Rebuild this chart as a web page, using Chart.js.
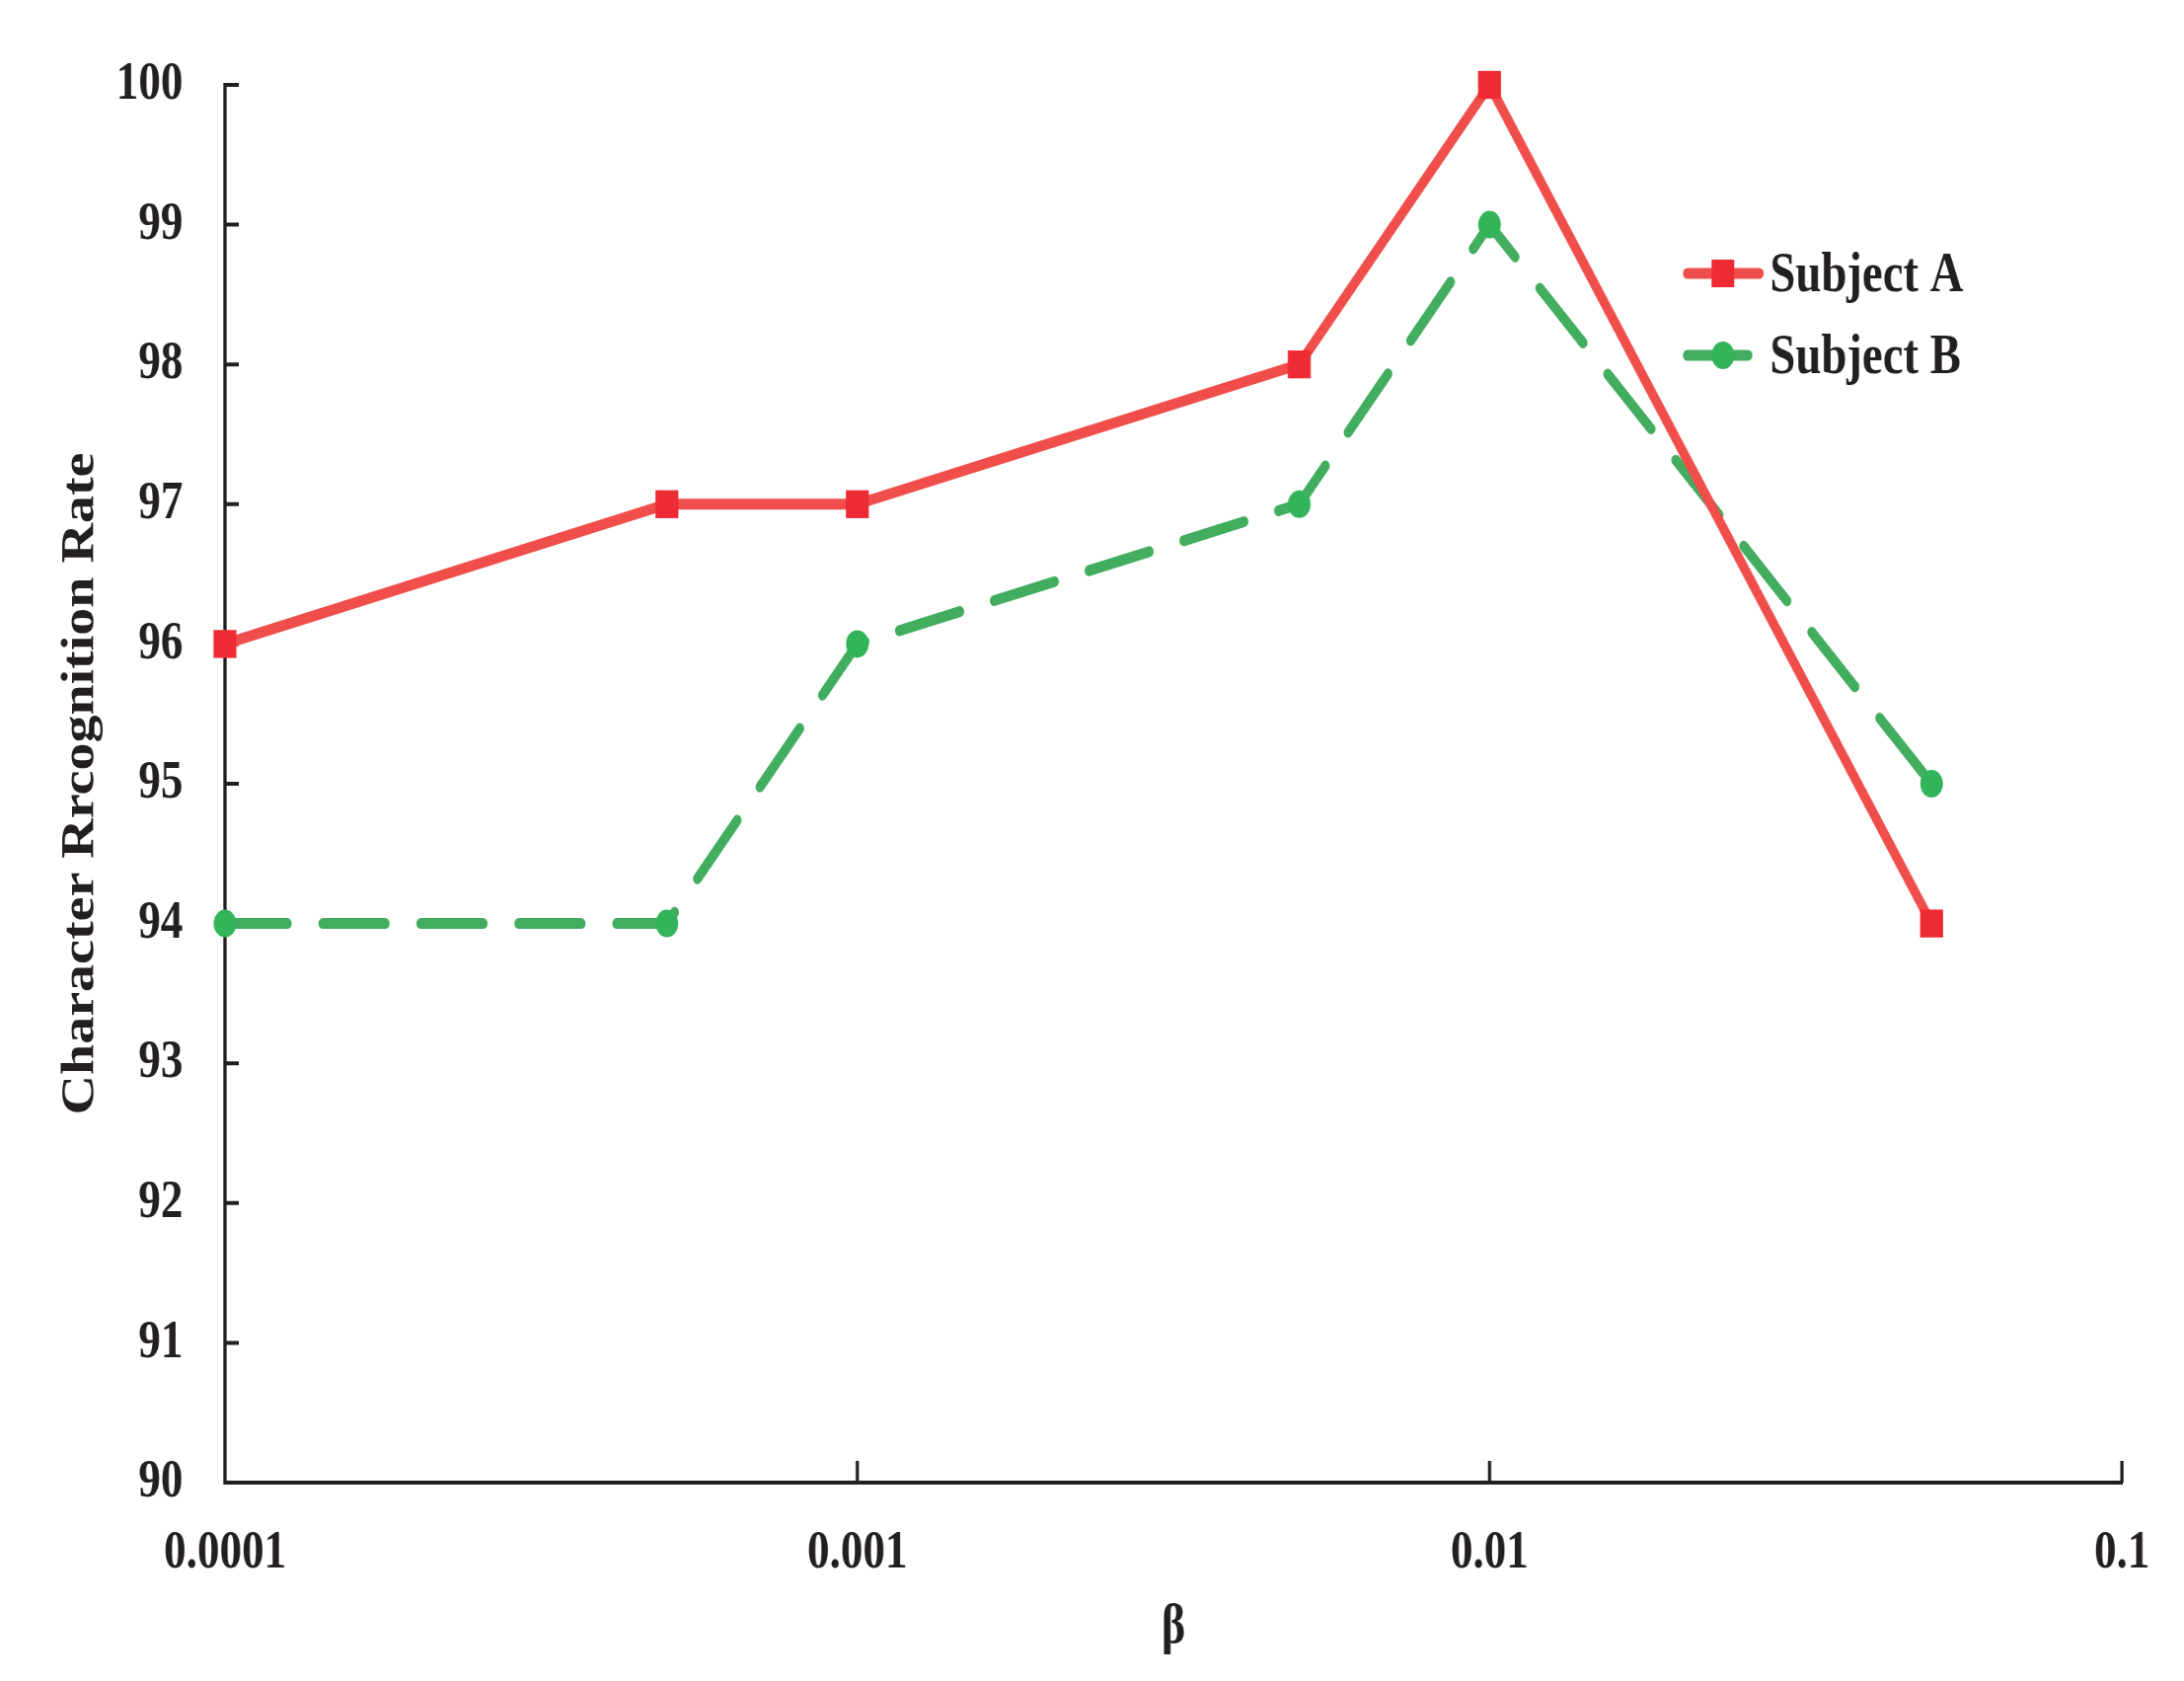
<!DOCTYPE html>
<html>
<head>
<meta charset="utf-8">
<script src="https://cdn.jsdelivr.net/npm/chart.js@4/dist/chart.umd.min.js"></script>
<style>
  html, body { margin: 0; padding: 0; background: #fff; overflow: hidden; }
  #wrap { width: 2213px; height: 1703px; overflow: hidden; }
  /* the original figure is squeezed horizontally */
  #chart { transform: scaleX(0.82); transform-origin: 0 0; }
</style>
</head>
<body>
<div id="wrap"><canvas id="chart"></canvas></div>
<script>
// ── Data ───────────────────────────────────────────────────────────────
const BETA      = [0.0001, 0.0005, 0.001, 0.005, 0.01, 0.05];
const SUBJECT_A = [96, 97, 97, 98, 100, 94];
const SUBJECT_B = [94, 94, 96, 97, 99, 95];
const X_TICKS   = [0.0001, 0.001, 0.01, 0.1];
const LABELS    = ['Subject A', 'Subject B'];

// ── Canvas ─────────────────────────────────────────────────────────────
const SX   = 0.82;
const W    = Math.round(2213 / SX);
const H    = 1703;
const INK  = '#231f20';
const FONT = 'Liberation Serif';

const canvas = document.getElementById('chart');
canvas.width  = W;
canvas.height = H;

const RED_LINE   = '#f04e4b';
const RED_MARK   = '#ee2a32';
const GREEN_LINE = '#42ad5e';
const GREEN_MARK = '#32b45a';

// ── Plugins ────────────────────────────────────────────────────────────
// tick marks point into the plot area
const innerTicks = {
  id: 'innerTicks',
  beforeDatasetsDraw(chart) {
    const { ctx, scales: { x, y }, chartArea: a } = chart;
    ctx.save();
    ctx.strokeStyle = INK;
    ctx.lineWidth = 4;
    ctx.beginPath();
    y.ticks.forEach((t, i) => {
      const py = y.getPixelForTick(i);
      ctx.moveTo(a.left, py);
      ctx.lineTo(a.left + 17, py);
    });
    x.ticks.forEach((t, i) => {
      const px = x.getPixelForTick(i);
      ctx.moveTo(px, a.bottom);
      ctx.lineTo(px, a.bottom - 22);
    });
    ctx.stroke();
    ctx.restore();
  }
};

// legend drawn inside the plot, top right
const legendBox = {
  id: 'legendBox',
  afterDraw(chart) {
    const { ctx } = chart;
    const rows = [
      { y: 277, x2: 2174, line: RED_LINE,   mark: RED_MARK,   style: 'rect' },
      { y: 360, x2: 2160, line: GREEN_LINE, mark: GREEN_MARK, style: 'circle' }
    ];
    ctx.save();
    rows.forEach((r, i) => {
      ctx.strokeStyle = r.line;
      ctx.lineWidth = 11;
      ctx.lineCap = 'round';
      ctx.beginPath();
      ctx.moveTo(2085, r.y);
      ctx.lineTo(r.x2, r.y);
      ctx.stroke();
      ctx.fillStyle = r.mark;
      if (r.style === 'rect') {
        ctx.fillRect(2129 - 14, r.y - 14, 28, 28);
      } else {
        ctx.beginPath();
        ctx.arc(2129, r.y, 14, 0, Math.PI * 2);
        ctx.fill();
      }
      ctx.fillStyle = INK;
      ctx.font = `bold 57px "${FONT}"`;
      ctx.textBaseline = 'alphabetic';
      ctx.fillText(LABELS[i], 2187, r.y + 18);
    });
    ctx.restore();
  }
};

// ── Chart ──────────────────────────────────────────────────────────────
const toPoints = (ys) => BETA.map((b, i) => ({ x: b, y: ys[i] }));

new Chart(canvas.getContext('2d'), {
  type: 'line',
  data: {
    datasets: [
      {
        label: LABELS[0],
        data: toPoints(SUBJECT_A),
        borderColor: RED_LINE,
        borderWidth: 11,
        borderJoinStyle: 'round',
        pointStyle: 'rect',
        pointRadius: 20,
        pointHoverRadius: 20,
        pointBackgroundColor: RED_MARK,
        pointBorderWidth: 0,
        clip: false
      },
      {
        label: LABELS[1],
        data: toPoints(SUBJECT_B),
        borderColor: GREEN_LINE,
        borderWidth: 11,
        borderDash: [77, 44],
        borderCapStyle: 'round',
        borderJoinStyle: 'round',
        pointStyle: 'circle',
        pointRadius: 14,
        pointHoverRadius: 14,
        pointBackgroundColor: GREEN_MARK,
        pointBorderWidth: 0,
        clip: false
      }
    ]
  },
  options: {
    responsive: false,
    animation: false,
    events: [],
    layout: { padding: { left: 0, top: 86, right: W - 2622, bottom: 0 } },
    plugins: { legend: { display: false }, tooltip: { enabled: false } },
    scales: {
      x: {
        type: 'logarithmic',
        min: 0.0001,
        max: 0.1,
        afterBuildTicks: (s) => { s.ticks = X_TICKS.map(v => ({ value: v })); },
        afterFit: (s) => { s.height = H - 1502; },
        grid: { display: false, drawTicks: false },
        border: { display: true, color: INK, width: 4 },
        ticks: {
          padding: 39,
          autoSkip: false,
          maxRotation: 0,
          color: INK,
          font: { family: FONT, size: 55, weight: 'bold', lineHeight: 1.2 },
          callback: (v) => String(v)
        },
        title: {
          display: true,
          text: 'β',
          color: INK,
          padding: { top: 0, bottom: 25 },
          font: { family: FONT, size: 56, weight: 'bold', lineHeight: 1 }
        }
      },
      y: {
        min: 90,
        max: 100,
        afterFit: (s) => { s.width = 278; },
        grid: { display: false, drawTicks: false },
        border: { display: true, color: INK, width: 4 },
        ticks: {
          stepSize: 1,
          padding: 52,
          color: INK,
          font: { family: FONT, size: 55, weight: 'bold' }
        },
        title: {
          display: true,
          text: 'Character Rrcognition Rate',
          color: INK,
          padding: { top: 73, bottom: 0 },
          font: { family: FONT, size: 56, weight: 'bold', lineHeight: 1 }
        }
      }
    }
  },
  plugins: [innerTicks, legendBox]
});
</script>
</body>
</html>
